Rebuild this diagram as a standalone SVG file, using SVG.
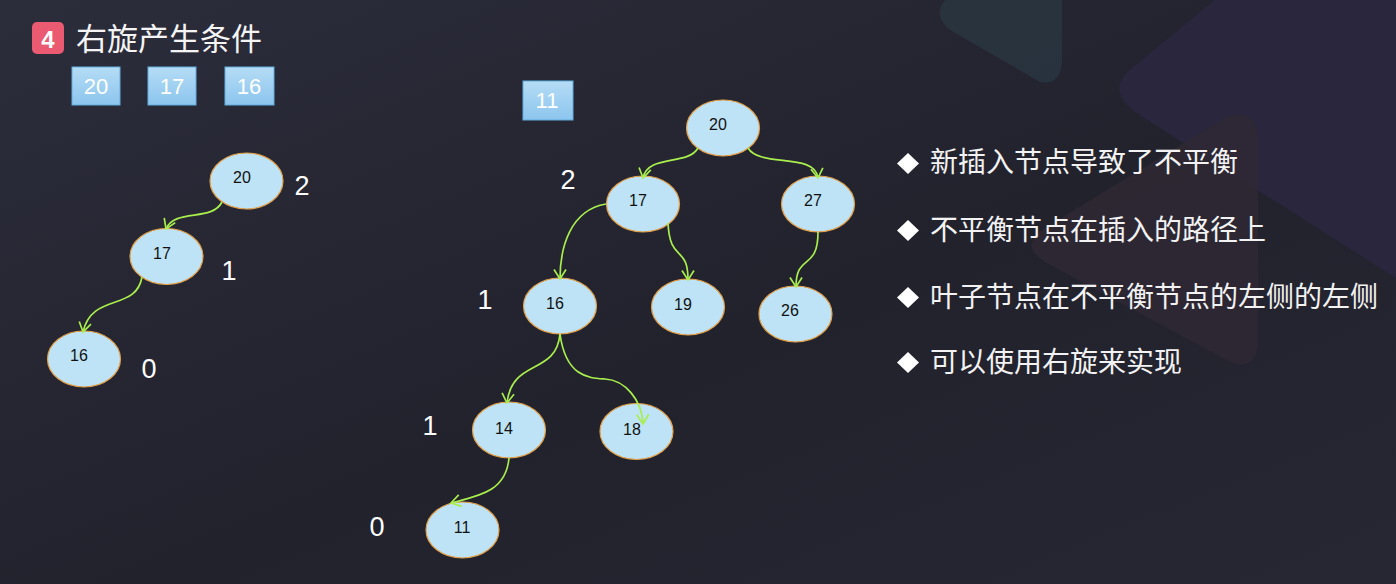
<svg xmlns="http://www.w3.org/2000/svg" width="1396" height="584" viewBox="0 0 1396 584">
<defs>
<linearGradient id="bg" x1="0" y1="0" x2="1" y2="1">
<stop offset="0" stop-color="#2c2d3b"/>
<stop offset="0.55" stop-color="#22222d"/>
<stop offset="1" stop-color="#272733"/>
</linearGradient>
<linearGradient id="boxg" x1="0" y1="0" x2="0" y2="1">
<stop offset="0" stop-color="#b5dcf5"/>
<stop offset="1" stop-color="#8cc5ee"/>
</linearGradient>
<marker id="arr" markerUnits="userSpaceOnUse" markerWidth="14" markerHeight="14" refX="11" refY="7" orient="auto">
<path d="M1.5,1 L11,7 L1.5,13" fill="none" stroke="#a8ee4c" stroke-width="1.7"/>
</marker>
<style>
.node ellipse{fill:#bee3f6;stroke:#e5a047;stroke-width:1.2}
.node text{font-family:"Liberation Sans",Arial,sans-serif;font-size:16px;fill:#111;text-anchor:middle}
.edge{fill:none;stroke:#a8ee4c;stroke-width:1.7;marker-end:url(#arr)}
.num{font-family:"Liberation Sans",Arial,sans-serif;font-size:27px;fill:#fff;text-anchor:middle}
.box rect{fill:url(#boxg);stroke:#62ade0;stroke-width:1}
.box text{font-family:"Liberation Sans",Arial,sans-serif;font-size:22px;fill:#fff;text-anchor:middle}
.bullet{font-family:"Noto Sans CJK SC","Noto Sans",sans-serif;font-size:28px;fill:#f2f2f2}
.dia{fill:#fff}
</style>
</defs>
<rect width="1396" height="584" fill="url(#bg)"/>
<g id="background-shapes">
<path d="M945,0 L1062,0 L1062,62 Q1060,86 1040,82 L950,30 Q932,16 945,0 Z" fill="#29343f" opacity="0.95"/>
<path d="M1215,0 L1396,0 L1396,278 L1135,112 Q1105,90 1132,68 Z" fill="#2a2740" opacity="0.9"/>
<path d="M1228,116 Q1258,108 1258,140 L1258,340 Q1258,372 1230,362 L1045,262 Q1018,245 1045,228 Z" fill="#2f2834" opacity="0.85"/>
</g>
<g id="title">
<rect x="32" y="22" width="32" height="32" rx="5" fill="#ea5a71"/>
<text x="48" y="48" font-family="Liberation Sans,Arial,sans-serif" font-size="24" font-weight="bold" fill="#fff" text-anchor="middle">4</text>
<text x="76" y="50" font-family="Noto Sans CJK SC,sans-serif" font-size="31" fill="#f4f4f4">右旋产生条件</text>
</g>
<g id="box-20" class="box"><rect x="72" y="67" width="48" height="38"/><text x="96" y="94">20</text></g>
<g id="box-17" class="box"><rect x="148" y="67" width="48" height="38"/><text x="172" y="94">17</text></g>
<g id="box-16" class="box"><rect x="225" y="67" width="49" height="38"/><text x="249" y="94">16</text></g>
<g id="box-11" class="box"><rect x="523" y="81" width="50" height="39"/><text x="547" y="108">11</text></g>
<g id="L20" class="node"><ellipse cx="246.5" cy="181" rx="36.5" ry="28"/><text x="242" y="183">20</text></g>
<g id="L17" class="node"><ellipse cx="166.5" cy="256.5" rx="36.5" ry="28"/><text x="162" y="259">17</text></g>
<g id="L16" class="node"><ellipse cx="84" cy="359" rx="36.5" ry="28"/><text x="79" y="361">16</text></g>
<g id="R20" class="node"><ellipse cx="723" cy="128" rx="36.5" ry="28"/><text x="718" y="130">20</text></g>
<g id="R17" class="node"><ellipse cx="643" cy="204" rx="36.5" ry="28"/><text x="638" y="206">17</text></g>
<g id="R27" class="node"><ellipse cx="818" cy="204" rx="36.5" ry="28"/><text x="813" y="206">27</text></g>
<g id="R16" class="node"><ellipse cx="560" cy="306" rx="36.5" ry="28"/><text x="555" y="309">16</text></g>
<g id="R19" class="node"><ellipse cx="688" cy="307" rx="36.5" ry="28"/><text x="683" y="310">19</text></g>
<g id="R26" class="node"><ellipse cx="795.5" cy="314" rx="36.5" ry="28"/><text x="790" y="316">26</text></g>
<g id="R14" class="node"><ellipse cx="509" cy="430" rx="36.5" ry="28"/><text x="504" y="434">14</text></g>
<g id="R18" class="node"><ellipse cx="636.5" cy="431.5" rx="36.5" ry="28"/><text x="632" y="435">18</text></g>
<g id="R11" class="node"><ellipse cx="462.5" cy="530" rx="36.5" ry="28"/><text x="462" y="533">11</text></g>
<g id="connectors">
<path class="edge" d="M222,202 C212,222 175,208 166,229"/>
<path class="edge" d="M142,277 C136,312 92,292 83,332"/>
<path class="edge" d="M698,148 C688,166 648,154 643,178"/>
<path class="edge" d="M748,148 C760,168 815,152 818,178"/>
<path class="edge" d="M606,204 C570,210 560,248 560,279"/>
<path class="edge" d="M668,223 C670,264 688,244 688,280"/>
<path class="edge" d="M818,232 C818,272 796,252 796,287"/>
<path class="edge" d="M560,334 C556,376 512,358 507,403"/>
<path class="edge" d="M560,334 C566,378 590,378 605,379 C625,380 642,400 643,424"/>
<path class="edge" d="M509,458 C506,492 478,496 451,503"/>
</g>
<g id="balance-labels">
<text class="num" x="302" y="195">2</text>
<text class="num" x="229" y="280">1</text>
<text class="num" x="149" y="378">0</text>
<text class="num" x="568" y="189">2</text>
<text class="num" x="485" y="309">1</text>
<text class="num" x="430" y="435">1</text>
<text class="num" x="377" y="536">0</text>
</g>
<g id="bullets">
<polygon class="dia" points="908,153 919,163.5 908,174 897,163.5"/>
<text class="bullet" x="930" y="172">新插入节点导致了不平衡</text>
<polygon class="dia" points="908,220 919,230.5 908,241 897,230.5"/>
<text class="bullet" x="930" y="240">不平衡节点在插入的路径上</text>
<polygon class="dia" points="908,287 919,297.5 908,308 897,297.5"/>
<text class="bullet" x="930" y="307">叶子节点在不平衡节点的左侧的左侧</text>
<polygon class="dia" points="908,352 919,362.5 908,373 897,362.5"/>
<text class="bullet" x="930" y="372">可以使用右旋来实现</text>
</g>
</svg>
